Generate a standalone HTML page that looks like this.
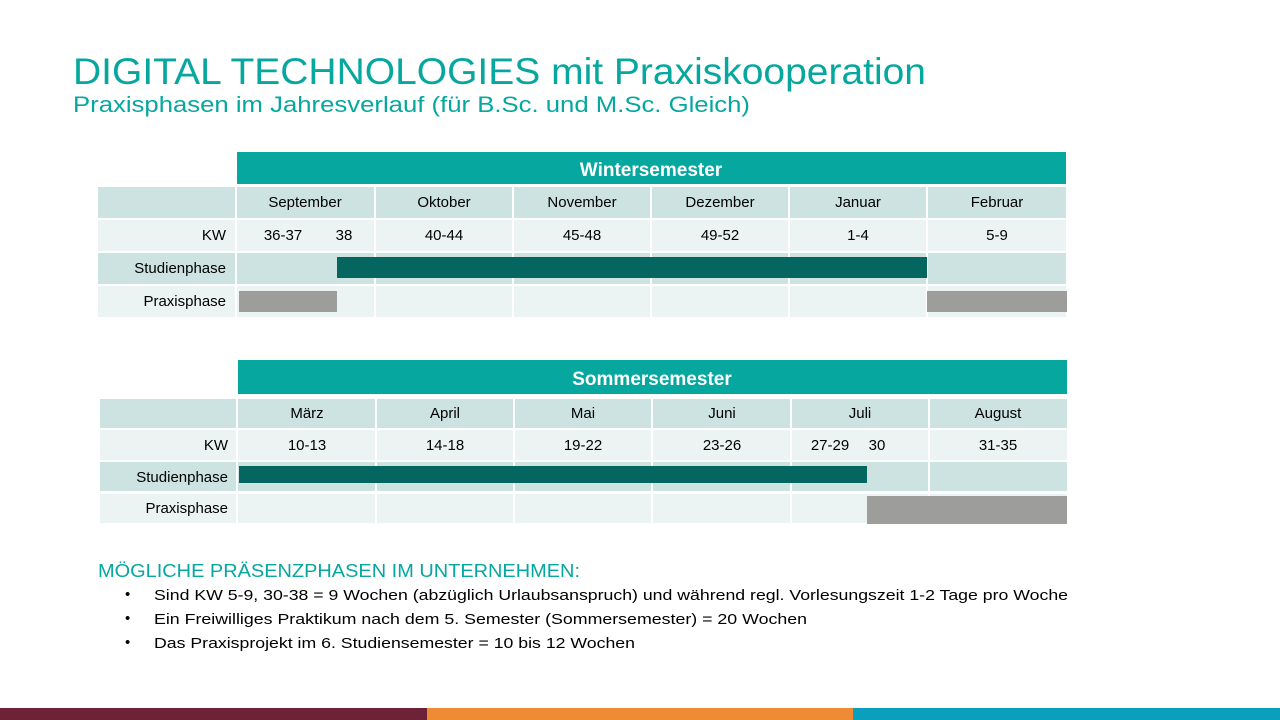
<!DOCTYPE html>
<html><head><meta charset="utf-8"><style>
html,body{margin:0;padding:0;background:#fff;}
svg{display:block;font-family:"Liberation Sans",Arial,sans-serif;}
</style></head><body>
<svg width="1280" height="720" viewBox="0 0 1280 720" xmlns="http://www.w3.org/2000/svg">
<rect width="1280" height="720" fill="#fff"/>
<text x="73" y="84" font-size="37" fill="#06a79f" textLength="853" lengthAdjust="spacingAndGlyphs">DIGITAL TECHNOLOGIES mit Praxiskooperation</text>
<text x="73" y="112" font-size="22" fill="#06a79f" textLength="677" lengthAdjust="spacingAndGlyphs">Praxisphasen im Jahresverlauf (für B.Sc. und M.Sc. Gleich)</text>

<!-- Winter -->
<rect x="237" y="152" width="829" height="32" fill="#06a79f"/>
<text x="651" y="176" font-size="19" font-weight="bold" fill="#fff" text-anchor="middle">Wintersemester</text>
<g>
<rect x="98" y="187" width="968" height="31" fill="#cce3e1"/>
<rect x="98" y="220" width="968" height="31" fill="#ecf4f3"/>
<rect x="98" y="253" width="968" height="31" fill="#cce3e1"/>
<rect x="98" y="286" width="968" height="31" fill="#ecf4f3"/>
<g fill="#fff">
<rect x="235" y="187" width="2" height="130"/><rect x="374" y="187" width="2" height="130"/><rect x="512" y="187" width="2" height="130"/><rect x="650" y="187" width="2" height="130"/><rect x="788" y="187" width="2" height="130"/><rect x="926" y="187" width="2" height="130"/>
</g>
<rect x="337" y="257" width="590" height="21" fill="#05665f"/>
<rect x="239" y="291" width="98" height="21" fill="#9d9d9c"/>
<rect x="927" y="291" width="140" height="21" fill="#9d9d9c"/>
<g font-size="15" fill="#000" text-anchor="middle">
<text x="305" y="207">September</text><text x="444" y="207">Oktober</text><text x="582" y="207">November</text><text x="720" y="207">Dezember</text><text x="858" y="207">Januar</text><text x="997" y="207">Februar</text>
<text x="283" y="240">36-37</text><text x="344" y="240">38</text><text x="444" y="240">40-44</text><text x="582" y="240">45-48</text><text x="720" y="240">49-52</text><text x="858" y="240">1-4</text><text x="997" y="240">5-9</text>
</g>
<g font-size="15" fill="#000" text-anchor="end">
<text x="226" y="240">KW</text><text x="226" y="273">Studienphase</text><text x="226" y="306">Praxisphase</text>
</g>
</g>

<!-- Summer -->
<rect x="238" y="360" width="829" height="34" fill="#06a79f"/>
<text x="652" y="385" font-size="19" font-weight="bold" fill="#fff" text-anchor="middle">Sommersemester</text>
<rect x="100" y="399" width="967" height="29" fill="#cce3e1"/>
<rect x="100" y="430" width="967" height="30" fill="#ecf4f3"/>
<rect x="100" y="462" width="967" height="29" fill="#cce3e1"/>
<rect x="100" y="494" width="967" height="29" fill="#ecf4f3"/>
<g fill="#fff">
<rect x="236" y="399" width="2" height="124"/><rect x="375" y="399" width="2" height="124"/><rect x="513" y="399" width="2" height="124"/><rect x="651" y="399" width="2" height="124"/><rect x="790" y="399" width="2" height="124"/><rect x="928" y="399" width="2" height="124"/>
</g>
<rect x="239" y="466" width="628" height="17" fill="#05665f"/>
<rect x="867" y="496" width="200" height="28" fill="#9d9d9c"/>
<g font-size="15" fill="#000" text-anchor="middle">
<text x="307" y="418">März</text><text x="445" y="418">April</text><text x="583" y="418">Mai</text><text x="722" y="418">Juni</text><text x="860" y="418">Juli</text><text x="998" y="418">August</text>
<text x="307" y="450">10-13</text><text x="445" y="450">14-18</text><text x="583" y="450">19-22</text><text x="722" y="450">23-26</text><text x="830" y="450">27-29</text><text x="877" y="450">30</text><text x="998" y="450">31-35</text>
</g>
<g font-size="15" fill="#000" text-anchor="end">
<text x="228" y="450">KW</text><text x="228" y="482">Studienphase</text><text x="228" y="513">Praxisphase</text>
</g>

<text x="98" y="577" font-size="18" fill="#06a79f" textLength="482" lengthAdjust="spacingAndGlyphs">MÖGLICHE PRÄSENZPHASEN IM UNTERNEHMEN:</text>
<g font-size="15" fill="#000">
<text x="125" y="599">•</text><text x="154" y="600" textLength="914" lengthAdjust="spacingAndGlyphs">Sind KW 5-9, 30-38 = 9 Wochen (abzüglich Urlaubsanspruch) und während regl. Vorlesungszeit 1-2 Tage pro Woche</text>
<text x="125" y="623">•</text><text x="154" y="624" textLength="653" lengthAdjust="spacingAndGlyphs">Ein Freiwilliges Praktikum nach dem 5. Semester (Sommersemester) =  20 Wochen</text>
<text x="125" y="647">•</text><text x="154" y="648" textLength="481" lengthAdjust="spacingAndGlyphs">Das Praxisprojekt im 6. Studiensemester = 10 bis 12 Wochen</text>
</g>

<rect x="0" y="708" width="427" height="12" fill="#6d2237"/>
<rect x="427" y="708" width="426" height="12" fill="#ef8a35"/>
<rect x="853" y="708" width="427" height="12" fill="#0aa0bd"/>
</svg>
</body></html>
